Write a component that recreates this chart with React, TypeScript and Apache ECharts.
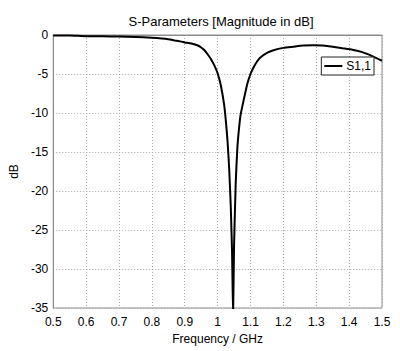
import React, { useEffect, useRef } from "react";
import * as echarts from "echarts";

const freqGHz: number[] = [
  0.5, 0.55, 0.6, 0.65, 0.7, 0.75, 0.8, 0.83, 0.85, 0.87, 0.89, 0.9, 0.92, 0.94, 0.95, 0.96, 0.97,
  0.98, 0.99, 1.0, 1.01, 1.02, 1.025, 1.03, 1.035, 1.04, 1.044, 1.047, 1.05, 1.055, 1.06, 1.065,
  1.07, 1.08, 1.09, 1.1, 1.11, 1.12, 1.13, 1.15, 1.17, 1.2, 1.23, 1.26, 1.29, 1.32, 1.35, 1.38,
  1.41, 1.44, 1.47, 1.5,
];
const s11dB: number[] = [
  -0.05, -0.05, -0.15, -0.15, -0.2, -0.25, -0.35, -0.45, -0.55, -0.7, -0.85, -0.95, -1.1, -1.35,
  -1.6, -1.95, -2.5, -3.1, -3.9, -4.9, -6.5, -9, -11, -13.5, -17, -22, -28, -36, -27, -19, -14.5,
  -12, -10.2, -8.2, -6.3, -5.0, -4.1, -3.4, -2.9, -2.3, -1.95, -1.65, -1.5, -1.35, -1.3, -1.35,
  -1.5, -1.7, -1.9, -2.2, -2.7, -3.3,
];
const seriesName = "S1,1";
const titleText = "S-Parameters [Magnitude in dB]";
const xAxisName = "Frequency / GHz";
const yAxisName = "dB";

export default function App() {
  const ref = useRef<HTMLDivElement>(null);
  useEffect(() => {
    if (!ref.current) return;
    const chart = echarts.init(ref.current, null, { renderer: "svg" });
    const font = "Liberation Sans, Arial, sans-serif";
    chart.setOption({
      animation: false,
      backgroundColor: "#ffffff",
      textStyle: { fontFamily: font },
      title: {
        text: titleText,
        left: 216,
        textAlign: "center",
        top: 10,
        textStyle: { fontSize: 13, fontWeight: "normal", color: "#000", fontFamily: font },
      },
      grid: {
        left: 50,
        right: 18,
        top: 35,
        bottom: 43,
        show: true,
        borderColor: "#8c8c8c",
        borderWidth: 1,
      },
      legend: {
        data: [{ name: seriesName, icon: "rect" }],
        right: 26,
        top: 57,
        orient: "vertical",
        backgroundColor: "#fff",
        borderColor: "#222",
        borderWidth: 1,
        borderRadius: 0,
        padding: [3, 3, 3, 3],
        itemWidth: 18,
        itemHeight: 2,
        itemGap: 4,
        itemStyle: { color: "#000" },
        textStyle: { fontSize: 12, color: "#000", fontFamily: font, padding: [0, 0, 0, -1] },
      },
      xAxis: {
        type: "value",
        min: 0.5,
        max: 1.5,
        interval: 0.1,
        name: xAxisName,
        nameLocation: "middle",
        nameGap: 24,
        nameTextStyle: { fontSize: 12, color: "#000", fontFamily: font },
        axisLine: { lineStyle: { color: "#8c8c8c" } },
        axisTick: { show: false },
        axisLabel: {
          fontSize: 12,
          color: "#000",
          margin: 8,
          formatter: (v: number) => String(Math.round(v * 10) / 10),
        },
        splitLine: { lineStyle: { color: "#a8a8a8", type: [1, 2] } },
      },
      yAxis: {
        type: "value",
        min: -35,
        max: 0,
        interval: 5,
        name: yAxisName,
        nameLocation: "middle",
        nameGap: 32,
        nameRotate: 90,
        nameTextStyle: { fontSize: 12, color: "#000", fontFamily: font },
        axisLine: { show: true, lineStyle: { color: "#8c8c8c" } },
        axisTick: { show: false },
        axisLabel: { fontSize: 12, color: "#000", margin: 5 },
        splitLine: { lineStyle: { color: "#a8a8a8", type: [1, 2] } },
      },
      series: [
        {
          name: seriesName,
          type: "line",
          data: freqGHz.map((f, i) => [f, s11dB[i]]),
          symbol: "none",
          showSymbol: false,
          clip: true,
          smooth: 0.15,
          lineStyle: { color: "#000", width: 2 },
          itemStyle: { color: "#000" },
        },
      ],
    });
    return () => chart.dispose();
  }, []);
  return <div ref={ref} style={{ width: 400, height: 351, position: "absolute", left: 0, top: 0 }} />;
}
